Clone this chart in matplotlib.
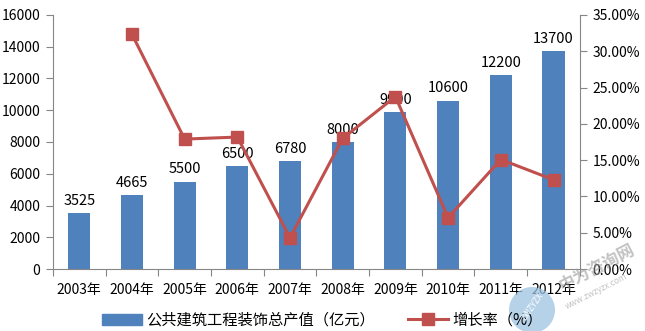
import numpy as np
import matplotlib
matplotlib.use("Agg")
import matplotlib.pyplot as plt
import matplotlib.lines as mlines
import matplotlib.patches as mpatches
from matplotlib.transforms import IdentityTransform
from matplotlib.ticker import FuncFormatter

plt.rcParams['font.family'] = ['Noto Sans CJK SC', 'DejaVu Sans']

years = ['2003年', '2004年', '2005年', '2006年', '2007年',
         '2008年', '2009年', '2010年', '2011年', '2012年']
output = [3525, 4665, 5500, 6500, 6780, 8000, 9900, 10600, 12200, 13700]
# growth rate in %, no value for the first year
growth = [None, 32.34, 17.90, 18.18, 4.31, 18.00, 23.75, 7.07, 15.09, 12.30]

bar_color = '#4F81BD'
line_color = '#C0504D'
axis_color = '#868686'

fig = plt.figure(figsize=(6.45, 3.31), dpi=100)
ax = fig.add_axes([0.082, 0.187, 0.817, 0.768])
ax2 = ax.twinx()

x = np.arange(len(years))
ax.bar(x, output, width=0.42, color=bar_color, zorder=2)
for xi, v in zip(x, output):
    ax.text(xi, v + 330, str(v), ha='center', va='bottom', fontsize=10.5, color='#000000')

gx = [xi for xi, g in zip(x, growth) if g is not None]
gy = [g for g in growth if g is not None]
ax2.plot(gx, gy, color=line_color, lw=2.2, marker='s', markersize=8,
         markerfacecolor=line_color, markeredgecolor=line_color, zorder=3)

ax.set_xlim(-0.5, len(years) - 0.5)
ax.set_ylim(0, 16000)
ax.set_yticks(np.arange(0, 16001, 2000))
ax2.set_ylim(0, 35)
ax2.set_yticks(np.arange(0, 35.1, 5))
ax2.yaxis.set_major_formatter(FuncFormatter(lambda v, p: '%.2f%%' % v))

# category boundary ticks below the x axis
ax.set_xticks(np.arange(-0.5, len(years), 1.0))
ax.set_xticklabels([])
ax.set_xticks(x, minor=True)
ax.set_xticklabels(years, minor=True)
ax.tick_params(axis='x', which='major', length=5, color=axis_color, direction='out')
ax.tick_params(axis='x', which='minor', length=0, pad=10, labelsize=10)
ax.tick_params(axis='y', length=5, color=axis_color, labelsize=10, pad=4)
ax2.tick_params(axis='y', length=5, color=axis_color, labelsize=10, pad=4)

for a in (ax, ax2):
    a.spines['top'].set_visible(False)
    a.spines['left'].set_color(axis_color)
    a.spines['right'].set_color(axis_color)
    a.spines['bottom'].set_color(axis_color)
ax.spines['right'].set_visible(False)
ax2.spines['left'].set_visible(False)
ax2.spines['bottom'].set_visible(False)

bar_handle = mpatches.Patch(color=bar_color, label='公共建筑工程装饰总产值（亿元）')
line_handle = mlines.Line2D([], [], color=line_color, lw=2.2, marker='s', markersize=8,
                            label='增长率（%）')
fig.legend(handles=[bar_handle, line_handle], loc='lower center',
           bbox_to_anchor=(0.5, -0.035), ncol=2, frameon=False, fontsize=11,
           handlelength=2.6, handleheight=0.8, columnspacing=2.2, handletextpad=0.3)

# site watermark in the lower right corner
fig.add_artist(mpatches.Circle((532, 21), 23, transform=IdentityTransform(),
                               facecolor='#9DC3E2', edgecolor='none', alpha=0.75, zorder=5))
fig.text(0.826, 0.075, 'ZWZYZX', rotation=55, fontsize=6, color='white',
         ha='center', va='center', zorder=6)
fig.text(0.925, 0.19, '中为咨询网', rotation=27, fontsize=12, color='#9A9A9A',
         alpha=0.6, ha='center', va='center', fontweight='bold', zorder=6)
fig.text(0.925, 0.12, 'www.zwzyzx.com', rotation=27, fontsize=6, color='#9A9A9A',
         alpha=0.6, ha='center', va='center', zorder=6)

fig.savefig('out.png', dpi=100)
